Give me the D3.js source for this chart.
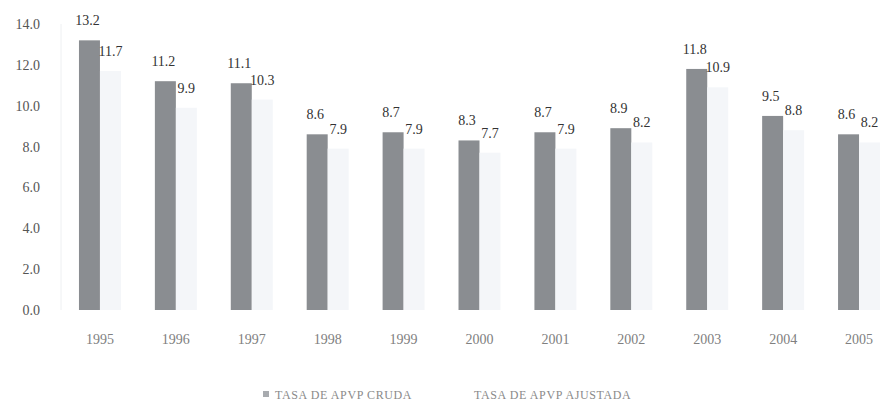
<!DOCTYPE html>
<html>
<head>
<meta charset="utf-8">
<script src="https://cdn.jsdelivr.net/npm/d3@7"></script>
<style>
  html, body { margin: 0; padding: 0; background: #fff; }
  svg { display: block; }
</style>
</head>
<body>
<svg id="chart" width="884" height="403"></svg>
<script>
// Tasa de APVP por año: cruda vs. ajustada
const years = ["1995","1996","1997","1998","1999","2000","2001","2002","2003","2004","2005"];
const tasaCruda = [13.2, 11.2, 11.1, 8.6, 8.7, 8.3, 8.7, 8.9, 11.8, 9.5, 8.6];
const tasaAjustada = [11.7, 9.9, 10.3, 7.9, 7.9, 7.7, 7.9, 8.2, 10.9, 8.8, 8.2];
const yTicks = [0, 2, 4, 6, 8, 10, 12, 14];
const seriesNames = ["TASA DE APVP CRUDA", "TASA DE APVP AJUSTADA"];
const seriesColors = ["#8a8d91", "#f4f6f9"];

const svg = d3.select("#chart");
const serif = "'Liberation Serif', 'DejaVu Serif', serif";

const x = d3.scaleBand().domain(years).range([62, 897])
  .paddingInner(0.447).paddingOuter(0.2235);
const xs = d3.scaleBand().domain([0, 1]).range([0, x.bandwidth()]);
const y = d3.scaleLinear().domain([0, 14]).range([310, 24]);

// faint vertical axis line
svg.append("line")
  .attr("x1", 61).attr("x2", 61).attr("y1", y(14)).attr("y2", y(0))
  .attr("stroke", "#eef0f2").attr("stroke-width", 1);

// y axis labels
const yAxis = d3.axisLeft(y).tickValues(yTicks).tickFormat(d3.format(".1f")).tickSize(0).tickPadding(0);
const gy = svg.append("g").attr("transform", "translate(40,0)").call(yAxis);
gy.select(".domain").remove();
gy.selectAll("text").attr("font-family", serif).attr("font-size", 14).attr("fill", "#555");

// x axis labels
const xAxis = d3.axisBottom(x).tickSize(0).tickPadding(0);
const gx = svg.append("g").attr("transform", "translate(0,334)").call(xAxis);
gx.select(".domain").remove();
gx.selectAll("text").attr("font-family", serif).attr("font-size", 14).attr("fill", "#808080");

const data = years.map((yr, i) => ({ yr, vals: [tasaCruda[i], tasaAjustada[i]] }));

const groups = svg.append("g").selectAll("g").data(data).join("g")
  .attr("transform", d => `translate(${x(d.yr)},0)`);

groups.selectAll("rect").data(d => d.vals.map((v, k) => ({ v, k }))).join("rect")
  .attr("x", d => xs(d.k))
  .attr("width", xs.bandwidth())
  .attr("y", d => y(d.v))
  .attr("height", d => y(0) - y(d.v))
  .attr("fill", d => seriesColors[d.k]);

groups.selectAll("text.val").data(d => d.vals.map((v, k) => ({ v, k }))).join("text")
  .attr("class", "val")
  .attr("x", d => xs(d.k) + xs.bandwidth() / 2 + (d.k === 0 ? -2 : 0))
  .attr("y", d => y(d.v) - 15)
  .attr("text-anchor", "middle")
  .attr("font-family", serif).attr("font-size", 14)
  .attr("fill", "#333")
  .text(d => d3.format(".1f")(d.v));

// legend
const legend = svg.append("g").attr("transform", "translate(263,399)");
const legendX = [0, 199];
seriesNames.forEach((name, k) => {
  const g = legend.append("g").attr("transform", `translate(${legendX[k]},0)`);
  g.append("rect").attr("x", 0).attr("y", -8).attr("width", 6).attr("height", 6).attr("fill", k === 0 ? "#a8abaf" : "#ffffff");
  g.append("text").attr("x", 12).attr("y", 0)
    .attr("font-family", serif)
    .attr("font-size", 12).attr("letter-spacing", 0.6).attr("fill", "#8a8a8a")
    .text(name);
});
</script>
</body>
</html>
